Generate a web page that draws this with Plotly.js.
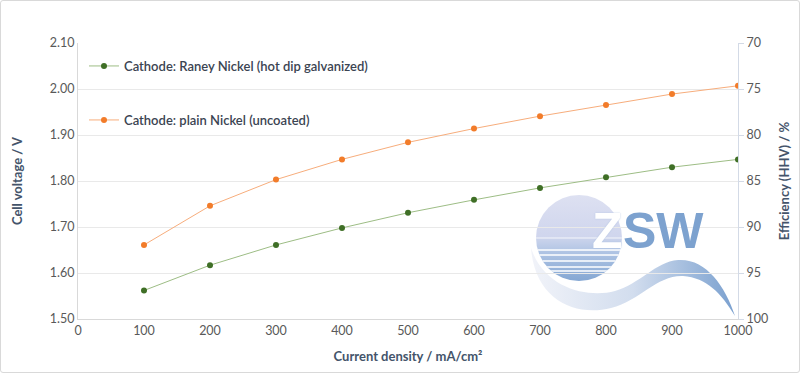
<!DOCTYPE html>
<html>
<head>
<meta charset="utf-8">
<script src="https://cdn.plot.ly/plotly-3.0.1.min.js"></script>
<style>
html,body{margin:0;padding:0;background:#fff;}
#chart{width:800px;height:373px;}
#frame{position:absolute;left:0;top:0;width:798px;height:371px;border:1px solid #d9d9d9;border-radius:3px;pointer-events:none;}
</style>
</head>
<body>
<div id="chart"></div>
<div id="frame"></div>
<script>
// ---- data ----
const currentDensity = [100, 200, 300, 400, 500, 600, 700, 800, 900, 1000];
const raneyNickel = [1.562, 1.617, 1.661, 1.698, 1.731, 1.759, 1.785, 1.808, 1.830, 1.847];
const plainNickel = [1.661, 1.746, 1.803, 1.847, 1.884, 1.914, 1.941, 1.965, 1.989, 2.007];
const seriesNames = ['Cathode: Raney Nickel (hot dip galvanized)', 'Cathode: plain Nickel (uncoated)'];
const xTicks = [0, 100, 200, 300, 400, 500, 600, 700, 800, 900, 1000];
const yTicks = [1.50, 1.60, 1.70, 1.80, 1.90, 2.00, 2.10];
const effTicks = [70, 75, 80, 85, 90, 95, 100];

const FONT = 'Lato, "Open Sans", sans-serif';
const TICK = '#595959';
const TITLE = '#44546A';

// decorative logo (watermark) as svg image
const logoSvg = `<svg xmlns='http://www.w3.org/2000/svg' width='215' height='130' viewBox='0 0 215 130'>
<defs>
<linearGradient id='u' x1='0' y1='0' x2='0' y2='1'><stop offset='0' stop-color='#dfe2f2'/><stop offset='1' stop-color='#cfd5ed'/></linearGradient>
<linearGradient id='l' x1='0' y1='0' x2='0' y2='1'><stop offset='0' stop-color='#ccd4ec'/><stop offset='0.3' stop-color='#aec3e3'/><stop offset='1' stop-color='#7aa0cf'/></linearGradient>
<linearGradient id='w' x1='0' y1='0' x2='1' y2='0'><stop offset='0' stop-color='#f1f3f9'/><stop offset='0.5' stop-color='#d2ddee'/><stop offset='1' stop-color='#7aa0cf'/></linearGradient>
<clipPath id='cc'><circle cx='54' cy='48' r='43'/></clipPath>
</defs>
<g clip-path='url(#cc)'>
<rect x='0' y='0' width='120' height='48' fill='url(#u)'/>
<rect x='0' y='48' width='120' height='50' fill='url(#l)'/>
<g stroke='#ffffff' stroke-width='1.4'>
<line x1='0' y1='48' x2='120' y2='48' stroke-opacity='0.8' stroke-width='1'/>
<line x1='0' y1='60' x2='120' y2='60'/>
<line x1='0' y1='65' x2='120' y2='65'/>
<line x1='0' y1='71' x2='120' y2='71'/>
<line x1='0' y1='77' x2='120' y2='77'/>
<line x1='0' y1='81' x2='120' y2='81'/>
</g>
</g>
<path d='M6,58 C20,100 65,108 90,101 C115,94 130,72 153,70 C180,68 200,95 210,126 C196,103 182,88 158,86 C132,85 116,110 86,118 C50,127 10,110 6,58 Z' fill='url(#w)'/>
</svg>`;
const logoSrc = 'data:image/svg+xml;charset=utf-8,' + encodeURIComponent(logoSvg);

const L = 78, R = 62, T = 43, B = 54, W = 800, H = 373;
const pw = W - L - R, ph = H - T - B;
const px = x => (x - L) / pw;
const py = y => (H - B - y) / ph;

const traces = [
  {
    x: currentDensity, y: raneyNickel, name: seriesNames[0], type: 'scatter', mode: 'lines+markers',
    line: {color: '#9dbd85', width: 1}, marker: {color: '#3f6f26', size: 6}, legend: 'legend'
  },
  {
    x: currentDensity, y: plainNickel, name: seriesNames[1], type: 'scatter', mode: 'lines+markers',
    line: {color: '#f7ad7c', width: 1}, marker: {color: '#f27c2a', size: 6}, legend: 'legend2'
  }
];

const legendBase = {
  xanchor: 'left', yanchor: 'middle', bgcolor: 'rgba(0,0,0,0)',
  font: {family: FONT, size: 13, color: '#3b4452', weight: 600}, itemwidth: 30
};

const logoFont = '"Liberation Sans", Arial, sans-serif';

const layout = {
  width: W, height: H,
  margin: {l: L, r: R, t: T, b: B, pad: 0},
  paper_bgcolor: '#ffffff', plot_bgcolor: '#ffffff',
  font: {family: FONT, size: 12.5, color: TICK},
  showlegend: true,
  legend: Object.assign({}, legendBase, {x: px(84), y: py(66)}),
  legend2: Object.assign({}, legendBase, {x: px(84), y: py(120)}),
  xaxis: {
    range: [0, 1000], tickvals: xTicks, ticktext: xTicks.map(String),
    showgrid: false, zeroline: false, showline: true, linecolor: '#d9d9d9', linewidth: 1,
    ticks: '', tickfont: {family: FONT, size: 12.5, color: TICK},
    title: {text: 'Current density / mA/cm²', font: {family: FONT, size: 13, color: TITLE, weight: 'bold'}, standoff: 14}
  },
  yaxis: {
    range: [1.5, 2.1], tickvals: yTicks, ticktext: yTicks.map(v => v.toFixed(2)),
    showgrid: true, gridcolor: '#e9e9e9', gridwidth: 1, zeroline: false,
    showline: true, linecolor: '#d9d9d9', linewidth: 1, ticks: '',
    tickfont: {family: FONT, size: 12.5, color: TICK},
    title: {text: 'Cell voltage / V', font: {family: FONT, size: 13, color: TITLE, weight: 'bold'}, standoff: 24}
  },
  yaxis2: {
    overlaying: 'y', side: 'right', range: [100, 70], tickvals: effTicks, ticktext: effTicks.map(String),
    showgrid: false, zeroline: false, showline: true, linecolor: '#d3dae6', linewidth: 1,
    ticks: 'outside', ticklen: 5, tickcolor: '#d3dae6',
    tickfont: {family: FONT, size: 12.5, color: TICK},
    title: {text: 'Efficiency (HHV) / %', font: {family: FONT, size: 13, color: TITLE, weight: 'bold'}, standoff: 12}
  },
  images: [{
    source: logoSrc, xref: 'paper', yref: 'paper',
    x: px(525), y: py(190), sizex: 215 / pw, sizey: 130 / ph,
    xanchor: 'left', yanchor: 'top', sizing: 'stretch', layer: 'below', opacity: 1
  }],
  annotations: [
    {
      xref: 'paper', yref: 'paper', x: px(607), y: py(231), xanchor: 'center', yanchor: 'middle',
      text: 'Z', showarrow: false,
      font: {family: logoFont, size: 50, color: '#ffffff', weight: 'bold', shadow: '0px 0px 1.5px #a9bedf'}
    },
    {
      xref: 'paper', yref: 'paper', x: px(663), y: py(231), xanchor: 'center', yanchor: 'middle',
      text: 'SW', showarrow: false,
      font: {family: logoFont, size: 50, color: '#7da2cf', weight: 'bold'}
    }
  ]
};

// an invisible helper keeps the right (efficiency) axis drawn
traces.push({x: [0], y: [100], yaxis: 'y2', mode: 'markers', marker: {opacity: 0}, showlegend: false, hoverinfo: 'skip'});

Plotly.newPlot('chart', traces, layout, {displayModeBar: false, staticPlot: true});
</script>
</body>
</html>
